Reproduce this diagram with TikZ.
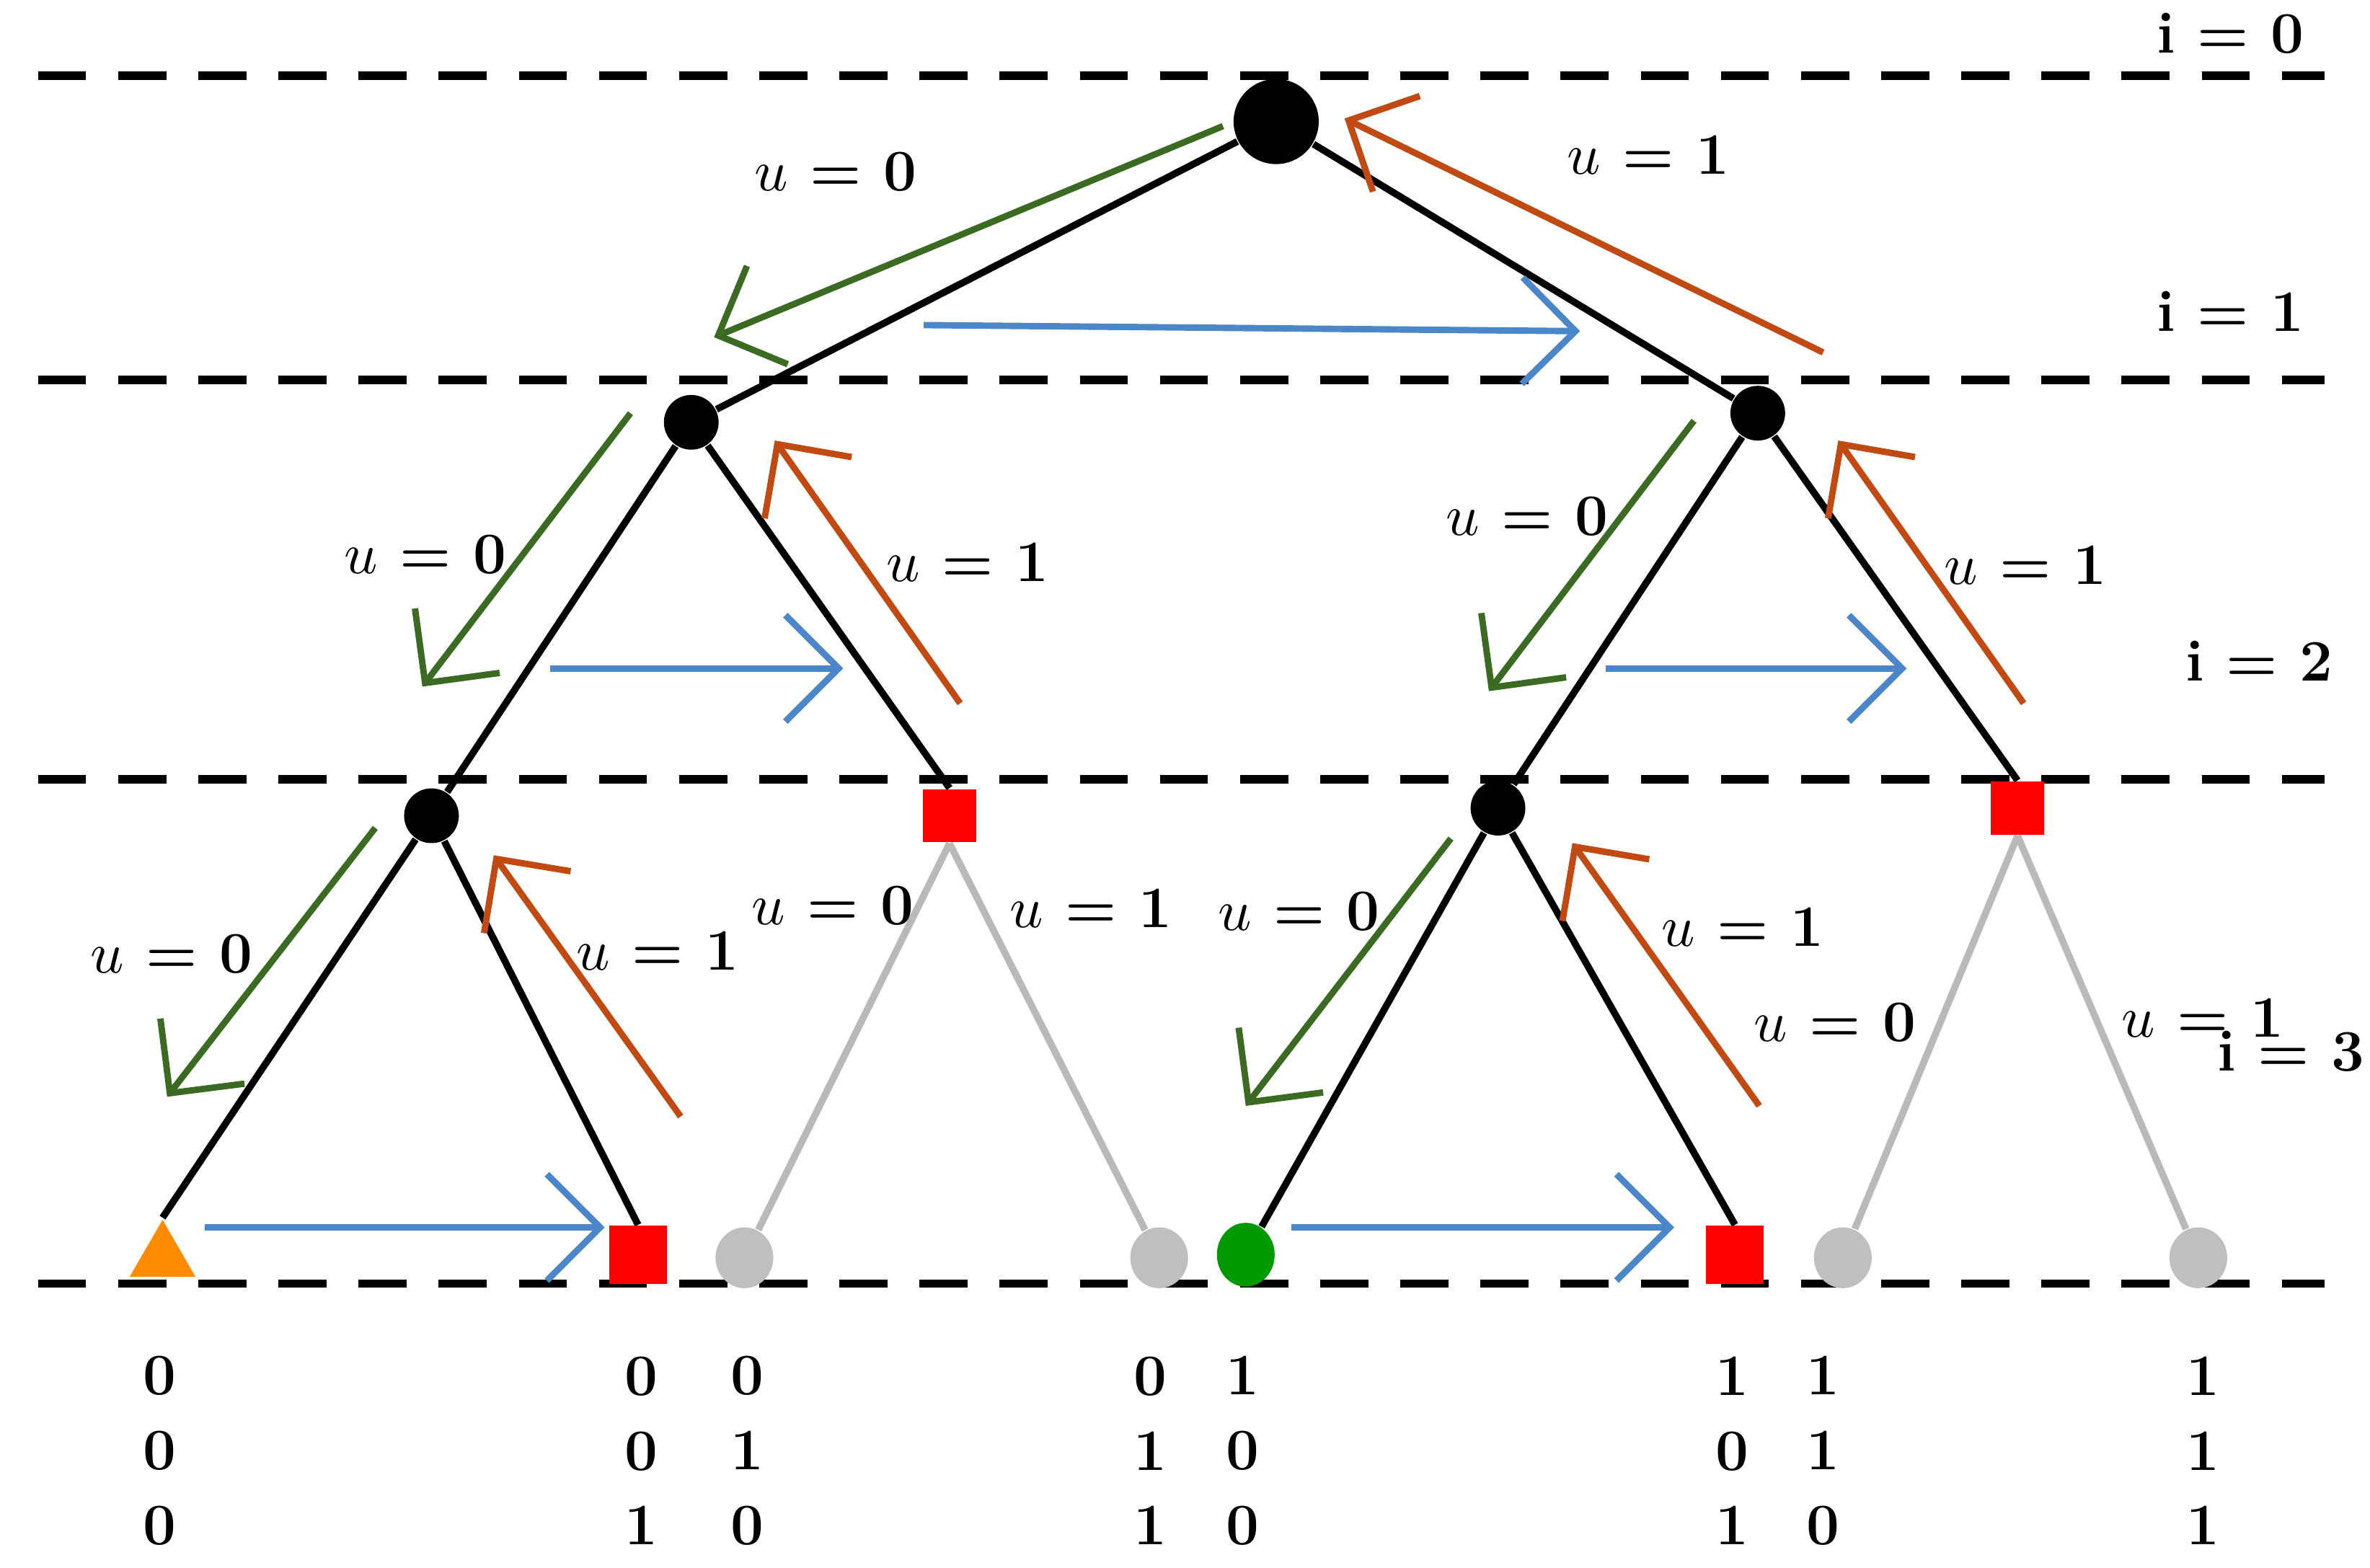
\documentclass[tikz,border=0pt]{standalone}
\usetikzlibrary{arrows.meta,shapes.geometric}
\definecolor{agreen}{HTML}{3B6B22}
\definecolor{aorange}{HTML}{C04A12}
\definecolor{ablue}{HTML}{4A86C8}
\begin{document}
\begin{tikzpicture}[x=0.01cm,y=-0.01cm,
 dl/.style={dashed,line width=1.6pt,dash pattern=on 9pt off 6pt},
 ed/.style={line width=1.3pt},
 ged/.style={line width=1.3pt,gray!55},
 ar/.style={line width=1.2pt,-{Straight Barb[length=3.5mm,width=7mm]}},
 g/.style={ar,agreen},
 o/.style={ar,aorange},
 b/.style={ar,ablue},
 bd/.style={circle,fill=black,inner sep=0pt},
 rs/.style={rectangle,fill=red,minimum size=0.35cm,inner sep=0pt},
 gy/.style={ellipse,fill=gray!50,minimum width=0.38cm,minimum height=0.4cm,inner sep=0pt},
 lb/.style={font=\fontsize{11}{13}\selectfont\bfseries},
 bits/.style={font=\fontsize{11}{14}\selectfont\bfseries,align=center}]
\useasboundingbox (0,0) rectangle (1560,1032);
\foreach \y in {50,250,513,845} \draw[dl] (25,\y) -- (1530,\y);
% nodes
\node[bd,minimum size=0.56cm] (r) at (840,80) {};
\node[bd,minimum size=0.36cm] (a) at (455,278) {};
\node[bd,minimum size=0.36cm] (b) at (1157,272) {};
\node[bd,minimum size=0.36cm] (c) at (284,537) {};
\node[rs] (d) at (625,537) {};
\node[bd,minimum size=0.36cm] (e) at (986,532) {};
\node[rs] (f) at (1328,532) {};
\node[regular polygon,regular polygon sides=3,fill=orange!90!yellow,inner sep=0pt,minimum size=0.5cm] (l1) at (107,828) {};
\node[rs,minimum size=0.38cm] (l2) at (420,826) {};
\node[gy] (l3) at (490,828) {};
\node[gy] (l4) at (763,828) {};
\node[ellipse,fill=green!60!black,minimum width=0.38cm,minimum height=0.42cm,inner sep=0pt] (l5) at (820,826) {};
\node[rs,minimum size=0.38cm] (l6) at (1142,826) {};
\node[gy] (l7) at (1213,828) {};
\node[gy] (l8) at (1447,828) {};
% edges
\draw[ed] (r)--(a); \draw[ed] (r)--(b);
\draw[ed] (a)--(c); \draw[ed] (a)--(d.north);
\draw[ed] (b)--(e); \draw[ed] (b)--(f.north);
\draw[ed] (c)--(l1.north); \draw[ed] (c)--(l2.north);
\draw[ed] (e)--(l5); \draw[ed] (e)--(l6.north);
\draw[ged] (d.south)--(l3); \draw[ged] (d.south)--(l4);
\draw[ged] (f.south)--(l7); \draw[ged] (f.south)--(l8);
% arrows
\coordinate (g1s) at (805,83); \coordinate (g1e) at (470,222);
\coordinate (g2s) at (415,272); \coordinate (g2e) at (278,452);
\coordinate (g3s) at (247,545); \coordinate (g3e) at (110,722);
\coordinate (g4s) at (955,552); \coordinate (g4e) at (820,728);
\coordinate (g5s) at (1115,277); \coordinate (g5e) at (980,455);
\draw[g] (g1s)--(g1e); \draw[g] (g2s)--(g2e); \draw[g] (g3s)--(g3e);
\draw[g] (g4s)--(g4e); \draw[g] (g5s)--(g5e);
\coordinate (o1s) at (1200,232); \coordinate (o1e) at (885,78);
\coordinate (o2s) at (632,463); \coordinate (o2e) at (510,290);
\coordinate (o3s) at (448,735); \coordinate (o3e) at (325,563);
\coordinate (o4s) at (1158,728); \coordinate (o4e) at (1035,555);
\coordinate (o5s) at (1332,463); \coordinate (o5e) at (1210,290);
\draw[o] (o1s)--(o1e); \draw[o] (o2s)--(o2e); \draw[o] (o3s)--(o3e);
\draw[o] (o4s)--(o4e); \draw[o] (o5s)--(o5e);
\coordinate (b1s) at (608,214); \coordinate (b1e) at (1040,218);
\coordinate (b2s) at (362,440); \coordinate (b2e) at (555,440);
\coordinate (b3s) at (1057,440); \coordinate (b3e) at (1255,440);
\coordinate (b4s) at (135,808); \coordinate (b4e) at (398,808);
\coordinate (b5s) at (850,808); \coordinate (b5e) at (1102,808);
\draw[b] (b1s)--(b1e); \draw[b] (b2s)--(b2e); \draw[b] (b3s)--(b3e);
\draw[b] (b4s)--(b4e); \draw[b] (b5s)--(b5e);
% labels
\foreach \x/\y/\v [count=\k] in {550/113/0,1085/102/1,280/365/0,637/370/1,1005/340/0,1333/372/1,113/628/0,433/626/1,548/596/0,718/598/1,855/600/0,1147/610/1,1208/673/0,1450/670/1}
  \node[lb] (u\k) at (\x,\y) {$u$ = \v};
\node[lb] (i0) at (1468,22) {i = 0};
\node[lb] (i1) at (1468,205) {i = 1};
\node[lb] (i2) at (1487,435) {i = 2};
\node[lb] (i3) at (1508,692) {i = 3};
\foreach \x/\p/\q/\r [count=\k] in {105/0/0/0,422/0/0/1,492/0/1/0,757/0/1/1,818/1/0/0,1140/1/0/1,1200/1/1/0,1450/1/1/1}
  \node[bits] (bt\k) at (\x,955) {\p\\\q\\\r};
\end{tikzpicture}
\end{document}
